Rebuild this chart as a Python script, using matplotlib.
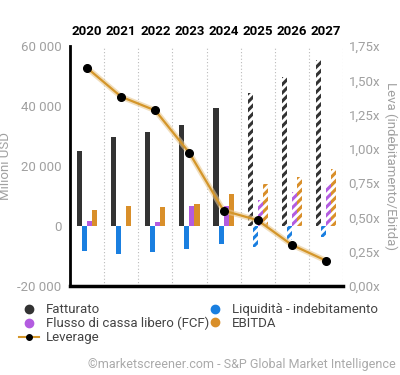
import matplotlib.pyplot as plt
import numpy as np

plt.rcParams['font.family'] = ['Roboto', 'DejaVu Sans']
plt.rcParams['hatch.linewidth'] = 2.2

years = ['2020', '2021', '2022', '2023', '2024', '2025', '2026', '2027']
fatturato = [25000, 29700, 31300, 33700, 39300, 44300, 49700, 55300]
liquidita = [-8200, -9300, -8500, -7500, -6100, -6900, -4700, -3500]
fcf = [1800, 0, 1500, 6700, 6800, 8800, 11400, 13900]
ebitda = [5200, 6800, 6400, 7400, 10800, 13900, 16400, 19100]
leverage = [1.59, 1.38, 1.28, 0.97, 0.55, 0.48, 0.30, 0.185]
n_actual = 5

colors = ['#333333', '#1a7fe0', '#b35ce0', '#d98f2a']
series = [fatturato, liquidita, fcf, ebitda]
names = ['Fatturato', 'Liquidità - indebitamento', 'Flusso di cassa libero (FCF)', 'EBITDA']

fig = plt.figure(figsize=(4, 3.75), dpi=100)
ax = fig.add_axes([0.175, 0.2373, 0.6825, 0.64])
ax2 = ax.twinx()

x = np.arange(len(years))
w = 0.148
for k in range(4):
    off = (k - 1.5) * w
    vals = series[k]
    ax.bar(x[:n_actual] + off, vals[:n_actual], width=w, color=colors[k], linewidth=0)
    ax.bar(x[n_actual:] + off, vals[n_actual:], width=w, facecolor='white',
           edgecolor=colors[k], hatch='////', linewidth=0)

ax.set_ylim(-20000, 60000)
ax.set_xlim(-0.5, 7.5)
ax.set_yticks([-20000, 0, 20000, 40000, 60000])
ax.set_yticklabels(['-20 000', '0', '20 000', '40 000', '60 000'])
ax.tick_params(axis='y', length=0, colors='#a0a0a0', labelsize=9.5, pad=6)
ax.set_xticks([])
ax.set_ylabel('Milioni USD', color='#a0a0a0', fontsize=9.5, labelpad=4)
for b in np.arange(0.5, 8, 1):
    ax.axvline(b, color='#bbbbbb', linestyle=(0, (1, 2)), linewidth=0.8, zorder=0)
for s in ['top', 'right']:
    ax.spines[s].set_visible(False)
ax.spines['left'].set_linewidth(2)
ax.spines['bottom'].set_linewidth(2.5)

for i, y in enumerate(years):
    ax.text(x[i], 1.035, y, transform=ax.get_xaxis_transform(), ha='center',
            va='bottom', fontsize=9.5, fontweight='bold', color='black')

ax2.plot(x, leverage, color='#e8c890', linewidth=4, alpha=0.6, zorder=3)
ax2.plot(x, leverage, color='#d4962a', linewidth=1.6, zorder=4)
ax2.plot(x, leverage, 'o', color='black', markersize=5.5, zorder=5)
ax2.set_ylim(0, 1.75)
ax2.set_yticks([0, 0.25, 0.5, 0.75, 1.0, 1.25, 1.5, 1.75])
ax2.set_yticklabels(['0,00x', '0,25x', '0,50x', '0,75x', '1,00x', '1,25x', '1,50x', '1,75x'])
ax2.tick_params(axis='y', length=0, colors='#a0a0a0', labelsize=9.5, pad=4)
ax2.set_ylabel('Leva (indebitamento/Ebitda)', color='#a0a0a0', fontsize=9.5,
               rotation=270, labelpad=12)
for s in ['top', 'right', 'left', 'bottom']:
    ax2.spines[s].set_visible(False)

# legend
handles = []
for k in [0, 2]:
    handles.append(plt.Line2D([], [], marker='o', linestyle='', color=colors[k], markersize=6))
handles.append(plt.Line2D([], [], marker='o', color='#d4962a', markerfacecolor='black',
                          markeredgecolor='black', markersize=4, linewidth=1.5))
labels = [names[0], names[2], 'Leverage']
leg1 = fig.legend(handles, labels, loc='upper left', bbox_to_anchor=(0.035, 0.845 - 0.64),
                  frameon=False, fontsize=9.5, handlelength=1.5, handletextpad=0.5,
                  labelspacing=0.05, borderaxespad=0)
h2 = [plt.Line2D([], [], marker='o', linestyle='', color=colors[k], markersize=6) for k in [1, 3]]
leg2 = fig.legend(h2, [names[1], names[3]], loc='upper left', bbox_to_anchor=(0.5, 0.845 - 0.64),
                  frameon=False, fontsize=9.5, handlelength=1.5, handletextpad=0.5,
                  labelspacing=0.05, borderaxespad=0)
for lg in [leg1, leg2]:
    for t in lg.get_texts():
        t.set_color('#444444')

fig.text(0.99, 0.027, '©marketscreener.com - S&P Global Market Intelligence', ha='right',
         va='center', fontsize=9, color='#aaaaaa')

plt.savefig('out.png', dpi=100)
